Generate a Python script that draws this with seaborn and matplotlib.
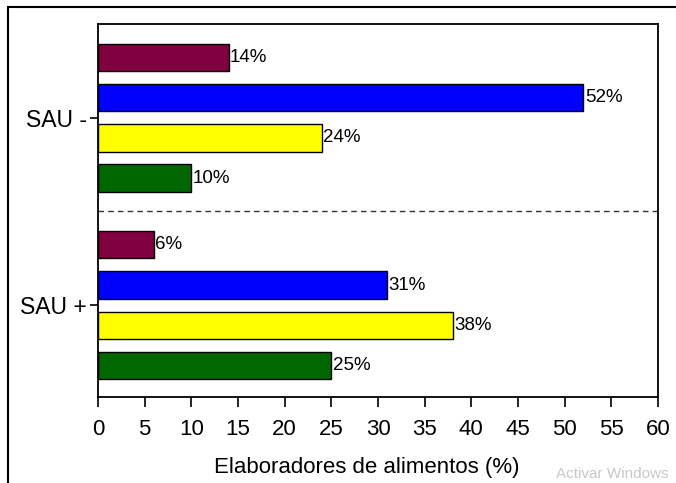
import pandas as pd
import matplotlib.pyplot as plt
import seaborn as sns
from matplotlib.lines import Line2D

# --- data ---
groups = ['SAU -', 'SAU +']
series = ['Serie 1', 'Serie 2', 'Serie 3', 'Serie 4']
sau_menos = [14, 52, 24, 10]
sau_mas = [6, 31, 38, 25]
colores = ['#800040', '#0000FF', '#FFFF00', '#006600']

df = pd.DataFrame({
    'grupo': [groups[0]] * 4 + [groups[1]] * 4,
    'serie': series * 2,
    'valor': sau_menos + sau_mas,
})

sns.set_style('white')
plt.rcParams['font.family'] = ['Liberation Sans Narrow', 'Liberation Sans', 'DejaVu Sans']
plt.rcParams['text.color'] = 'black'
plt.rcParams['axes.labelcolor'] = 'black'
plt.rcParams['xtick.color'] = 'black'
plt.rcParams['ytick.color'] = 'black'

fig = plt.figure(figsize=(6.76, 4.83), dpi=100)
ax = fig.add_axes([98 / 676, 1 - 397 / 483, 560 / 676, 373 / 483])

sns.barplot(data=df, x='valor', y='grupo', hue='serie', order=groups,
            hue_order=series, palette=colores, orient='h', width=0.86,
            gap=0.32, edgecolor='black', linewidth=1.0, saturation=1,
            legend=False, ax=ax)

for cont in ax.containers:
    labs = ax.bar_label(cont, fmt='%g%%', padding=1, color='black')
    for t in labs:
        t.set_fontfamily(['Liberation Sans', 'DejaVu Sans'])
        t.set_fontsize(13.5)

ax.axhline(0.5, color='#333333', linestyle=(0, (4, 3)), linewidth=1.0)

ax.set_xlim(0, 60)
ax.set_xticks(range(0, 61, 5))
ax.set_ylim(1.49, -0.5)
ax.set_xlabel('Elaboradores de alimentos (%)', fontsize=16, labelpad=12)
ax.xaxis.label.set_x(0.48)
ax.set_ylabel('')
ax.tick_params(axis='x', labelsize=16, length=7, width=1.2, direction='out',
               bottom=True, pad=9, colors='black')
ax.tick_params(axis='y', length=6, width=1.2, direction='out', left=True, pad=2,
               colors='black')
for lab in ax.get_yticklabels():
    lab.set_fontfamily(['Liberation Sans', 'DejaVu Sans'])
    lab.set_fontsize(16.5)
for sp in ax.spines.values():
    sp.set_linewidth(1.3)
    sp.set_color('black')

# outer frame of the original screenshot
fig.add_artist(Line2D([8 / 676, 8 / 676], [0, 1 - 7 / 483], color='black', lw=1.5))
fig.add_artist(Line2D([8 / 676, 1], [1 - 7 / 483, 1 - 7 / 483], color='black', lw=1.5))

fig.text(556 / 676, 1 - 481 / 483, 'Activar Windows', fontsize=11, color='#c8c8c8',
         va='bottom', family=['Liberation Sans', 'DejaVu Sans'])

fig.savefig('out.png', dpi=100)
